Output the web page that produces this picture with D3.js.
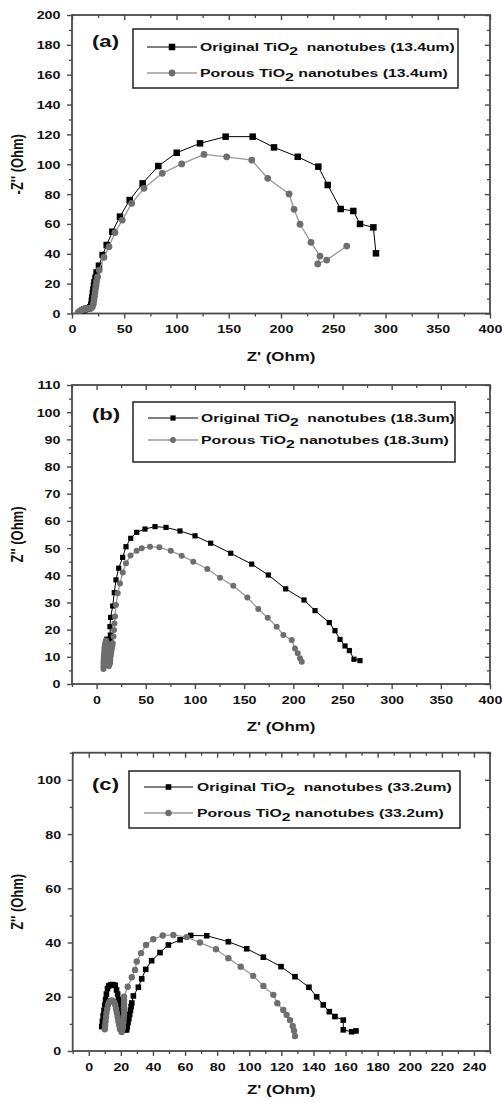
<!DOCTYPE html>
<html>
<head>
<meta charset="utf-8">
<script src="https://cdn.jsdelivr.net/npm/d3@7"></script>
<style>
  body { margin: 0; background: #fff; }
  svg { display: block; }
</style>
</head>
<body>
<svg id="fig" width="502" height="1102"></svg>
<script>
// ---- Nyquist data: [Z' (Ohm), Z'' (Ohm)] ----
// (a) 13.4 um
const originalA = [
  [8,1],[10,2],[12,2.8],[14,3.2],[16,3.5],[17.5,4.2],[18.5,6],[19,8.5],[19.5,11],[20,13.5],
  [20.5,16],[21,18.5],[21.5,21],[22.5,24],[23.5,27.5],[25.8,32],[29.3,39.2],[33.2,45.9],
  [38.6,54.8],[45.9,64.9],[55.2,76],[67.6,87.2],[82.6,98.8],[100.2,107.7],[122.5,114],
  [147,118.5],[172.9,118.5],[193.3,111.3],[216,105],[235.7,98.4],[244.7,86.1],[257.1,70],
  [269.2,68.7],[275.6,60],[288.4,57.7],[290.9,40.3]
];
const porousA = [
  [6,0.8],[8,1.8],[10,2.5],[12,3],[14,3.2],[16,3.4],[18,3.6],[19.5,4.5],[20.5,6.5],[21,9],
  [21.5,11.5],[22,14],[22.5,16.5],[23,19],[23.5,21.5],[24.5,24.5],[26.1,29.1],[30.6,37.7],
  [35.4,44.8],[41.1,54.2],[48.1,62.6],[57.1,73.8],[68.9,83.9],[86.4,93.9],[105,100.2],
  [126.3,106.6],[148,105],[172,102.8],[187.3,90.6],[207.7,80.1],[212.5,69.8],[218.2,59.8],
  [228.7,47.7],[237.3,38.5],[235.1,33.2],[243.7,35.8],[262.9,45.2]
];
// (b) 18.3 um
const originalB = [
  [8,7],[8,8],[8.2,9],[8.5,11],[8.8,12],[9,13],[9.5,15],[10,16],[10.5,16.5],[11,16.2],[11.5,15.5],
  [12,13.5],[12.5,11.5],[13,9.5],[13.5,8],[13.8,8.8],[14,9.5],[14.5,12],[14.6,13.5],[14.5,15],
  [14.2,16.5],[14,18],[13.6,21.1],[14.3,24.5],[16.4,28.7],[18,33.6],
  [19.7,38.3],[22.5,42.6],[26.5,46.6],[29.9,50.5],[34.7,53.6],[40.8,55.8],[49.2,57],[59.4,57.9],
  [70.6,57.6],[84.8,56.3],[100.1,54.5],[116,51.8],[136.4,48.1],[157.7,44.1],[174.6,40.1],
  [192.3,35],[210.9,30.9],[222.1,27],[236.6,22.6],[242.4,19.6],[247.5,16.4],[252.6,14],
  [257,12.3],[261.7,9.1],[267.8,8.6]
];
const porousB = [
  [7,5.5],[7,6.5],[7,7.5],[7.1,8.8],[7.3,10],[7.5,11.2],[7.8,12.5],[8.1,13.5],[8.5,14.5],[9,15.3],
  [9.5,16],[10,15.6],[10.5,15],[10.8,13.8],[11,12.5],[11.3,11.2],[11.5,10],[11.8,9],[12,8],
  [12.5,6.5],[13,7.2],[13.5,8],[14,9.2],[14.5,10.5],[15,11.8],[15.5,13],[16,14],[16.5,15],[17.2,17.5],
  [17.7,19.9],[18.2,22.3],[18.7,24.8],
  [19.7,29.1],[21.5,33.4],[23.8,37],[26.6,41],[29.9,44.4],[34.5,47.3],[40.8,49],[45.9,49.9],
  [54.3,50.5],[63.8,50.3],[75.4,49],[86.5,47.2],[98.3,45],[112.6,42.3],[125.5,39.1],[139,36.1],
  [153.3,31.8],[164.4,27.6],[174,24.4],[183.1,21.1],[189.9,18],[198.4,16.2],[201.7,13.1],
  [204.5,11.3],[206.8,9.5],[208.6,8.2]
];
// (c) 33.2 um
const originalC = [
  [8.1,9],[8.5,11],[9,13],[9.5,15],[10,17],[10.5,19],[11,21],[11.7,23],[12.5,24],[13.5,24.4],
  [14.5,24.5],[15.5,24.4],[16.5,24.2],[17.3,22.5],[18,21],[18.5,19],[19,17],[19.5,15],[20,13],
  [20.3,11],[20.7,9.2],[21.5,8.2],[22.5,7.8],[23.6,7.8],[24,9],[24.5,10.5],[25,12],[25.5,13.5],
  [26,15],[26.4,16.4],[26.8,17.7],[27.8,20.3],
  [30.9,23.5],[33,26.6],[35.5,30.1],[39.2,33.3],[44.4,36.3],[49.6,39.1],[56.9,41],[63.5,42.6],
  [73.5,42.5],[87,40.3],[98.4,37.7],[108.8,34.6],[119.8,31.1],[128.5,27.4],[137.2,23.5],
  [142,20],[146.1,17],[149.9,14.5],[153.4,12.7],[158.6,11.4],[158.6,7.8],[163.8,7.1],[166.5,7.4]
];
const porousC = [
  [10,8],[10.2,9.5],[10.5,11],[10.8,12.5],[11,14],[11.5,15.5],[12,17],[12.8,18],[13.5,18.5],
  [14.3,18.6],[15,18.5],[15.8,18],[16.5,17],[17,15.5],[17.5,14],[18,12.5],[18.5,11],[19,9.5],
  [19.5,8],[20.5,7],[21,8],[21.3,9],[21.6,10.5],[21.8,12],[22,13.5],[22,15],[22,16.3],[22,17.5],
  [22,18.8],[22,20],[24.3,23.7],[26.8,27.2],[28.8,29.9],
  [29.9,33],[32.6,36.1],[35.7,39.1],[40.2,41.2],[46.1,42.6],[52.7,42.8],[61,42],[69.3,40],
  [79.3,37.5],[87,34.2],[94.7,31.1],[102.5,27.7],[108.8,24],[115,20.7],[117.5,17.6],[121.2,15.1],
  [123.3,13.3],[125.4,11.4],[127.1,9.2],[127.9,7.5],[128.5,5.5]
];

// ---- axis ticks ----
const xMajorAB = d3.range(0, 401, 50);
const xMinorA  = d3.range(25, 400, 50);
const xMinorB  = d3.range(-25, 400, 50);
const xMajorC  = d3.range(0, 241, 20);
const xMinorC  = d3.range(-10, 251, 20);
const yMajorA  = d3.range(0, 201, 20);
const yMinorA  = d3.range(10, 200, 20);
const yMajorB  = d3.range(0, 111, 10);
const yMinorB  = d3.range(5, 110, 10);
const yMajorC  = d3.range(0, 101, 20);
const yMinorC  = d3.range(10, 111, 20);

// ---- legend labels ----
const sampleLengths = ["13.4um", "18.3um", "33.2um"];
const panelTags = ["(a)", "(b)", "(c)"];
const yTitles = ["-Z'' (Ohm)", "Z'' (Ohm)", "Z'' (Ohm)"];
const xTitle = "Z' (Ohm)";

const FONT = '"Liberation Sans", Arial, Helvetica, sans-serif';
const SX = 1.3;            // text is drawn horizontally widened
const FRAME = '#4a4a4a';
const BLACK = '#000';
const GREY_LINE = '#9a9a9a';
const GREY_MARK = '#6e6e6e';

const svg = d3.select('#fig');

const panels = [
  { tag: panelTags[0], yTitle: yTitles[0], len: sampleLengths[0], orig: originalA, por: porousA,
    xDomain: [0, 400], yDomain: [0, 200], xMajor: xMajorAB, xMinor: xMinorA, yMajor: yMajorA, yMinor: yMinorA,
    left: 72, right: 490, top: 15, bottom: 313.5, xTitleY: 361,
    box: [133, 29, 325, 59], rows: [47, 73], lineX: [147, 197], textX: 200, textW: [255, 248],
    tagXY: [92, 47], sq: 6.5, r: 3.4 },
  { tag: panelTags[1], yTitle: yTitles[1], len: sampleLengths[1], orig: originalB, por: porousB,
    xDomain: [-25, 400], yDomain: [0, 110], xMajor: xMajorAB, xMinor: xMinorB, yMajor: yMajorB, yMinor: yMinorB,
    left: 72, right: 490, top: 385, bottom: 684, xTitleY: 731,
    box: [133, 402, 322, 60], rows: [418, 440], lineX: [148, 198], textX: 201, textW: [254, 248],
    tagXY: [92, 420], sq: 5.2, r: 3.0 },
  { tag: panelTags[2], yTitle: yTitles[2], len: sampleLengths[2], orig: originalC, por: porousC,
    xDomain: [-10, 250], yDomain: [0, 110], xMajor: xMajorC, xMinor: xMinorC, yMajor: yMajorC, yMinor: yMinorC,
    left: 72.7, right: 490, top: 752.7, bottom: 1051, xTitleY: 1094,
    box: [129, 771, 331, 57], rows: [787, 813], lineX: [144, 193], textX: 197, textW: [255, 247],
    tagXY: [92, 790], sq: 5.6, r: 3.2 }
];

function styleTickText(sel) {
  sel.selectAll('text')
    .attr('fill', '#111')
    .style('font-family', FONT)
    .style('font-weight', 'bold')
    .style('font-size', '11px');
}

function drawPanel(p) {
  const g = svg.append('g');
  const x = d3.scaleLinear().domain(p.xDomain).range([p.left, p.right]);
  const y = d3.scaleLinear().domain(p.yDomain).range([p.bottom, p.top]);

  const axes = [
    { gen: d3.axisBottom(x), at: `translate(0,${p.bottom})`, major: p.xMajor, minor: p.xMinor, dir: 1, labels: true, kind: 'x' },
    { gen: d3.axisTop(x), at: `translate(0,${p.top})`, major: p.xMajor, minor: p.xMinor, dir: -1, labels: false },
    { gen: d3.axisLeft(y), at: `translate(${p.left},0)`, major: p.yMajor, minor: p.yMinor, dir: 1, labels: true, kind: 'y' },
    { gen: d3.axisRight(y), at: `translate(${p.right},0)`, major: p.yMajor, minor: p.yMinor, dir: -1, labels: false }
  ];

  axes.forEach(a => {
    const minor = g.append('g').attr('transform', a.at)
      .call(a.gen.tickValues(a.minor).tickSizeInner(3 * a.dir).tickSizeOuter(0).tickFormat(''));
    minor.select('.domain').remove();
    minor.selectAll('line').attr('stroke', FRAME).attr('stroke-width', 1.3);

    const major = g.append('g').attr('transform', a.at)
      .call(a.gen.tickValues(a.major).tickSizeInner(5 * a.dir).tickSizeOuter(0)
        .tickFormat(a.labels ? d3.format('d') : ''));
    major.select('.domain').remove();
    major.selectAll('line').attr('stroke', FRAME).attr('stroke-width', 1.4);
    if (a.labels) {
      styleTickText(major);
      if (a.kind === 'x') {
        major.selectAll('text').attr('y', 19.8).attr('dy', null)
          .attr('transform', `scale(${SX},1)`);
      } else {
        major.selectAll('text').attr('x', -11.5 / SX).attr('dy', '0.36em')
          .attr('transform', `scale(${SX},1)`);
      }
    }
  });

  // frame
  g.append('rect')
    .attr('x', p.left).attr('y', p.top)
    .attr('width', p.right - p.left).attr('height', p.bottom - p.top)
    .attr('fill', 'none').attr('stroke', FRAME).attr('stroke-width', 1.8);

  // axis titles
  g.append('text')
    .attr('transform', `translate(${(p.left + p.right) / 2},${p.xTitleY}) scale(${SX},1)`)
    .attr('text-anchor', 'middle')
    .style('font-family', FONT).style('font-weight', 'bold').style('font-size', '13px')
    .attr('fill', '#111')
    .text(xTitle);
  g.append('text')
    .attr('transform', `translate(23,${(p.top + p.bottom) / 2}) scale(${SX},1) rotate(-90)`)
    .attr('text-anchor', 'middle')
    .style('font-family', FONT).style('font-weight', 'bold').style('font-size', '13px')
    .attr('fill', '#111')
    .text(p.yTitle);

  // series
  const line = d3.line().x(d => x(d[0])).y(d => y(d[1]));
  const clip = 'clip-' + p.tag.replace(/[()]/g, '');
  svg.append('clipPath').attr('id', clip).append('rect')
    .attr('x', p.left).attr('y', p.top).attr('width', p.right - p.left).attr('height', p.bottom - p.top);
  const plot = g.append('g').attr('clip-path', `url(#${clip})`);

  plot.append('path').datum(p.orig)
    .attr('d', line).attr('fill', 'none').attr('stroke', BLACK).attr('stroke-width', 1);
  plot.selectAll('rect.orig').data(p.orig).join('rect').attr('class', 'orig')
    .attr('x', d => x(d[0]) - p.sq / 2).attr('y', d => y(d[1]) - p.sq / 2)
    .attr('width', p.sq).attr('height', p.sq).attr('fill', BLACK);

  plot.append('path').datum(p.por)
    .attr('d', line).attr('fill', 'none').attr('stroke', GREY_LINE).attr('stroke-width', 1.3);
  plot.selectAll('circle.por').data(p.por).join('circle').attr('class', 'por')
    .attr('cx', d => x(d[0])).attr('cy', d => y(d[1])).attr('r', p.r).attr('fill', GREY_MARK);

  // panel tag
  g.append('text')
    .attr('transform', `translate(${p.tagXY[0]},${p.tagXY[1]}) scale(${SX},1)`)
    .style('font-family', FONT).style('font-weight', 'bold').style('font-size', '17px')
    .attr('fill', '#111')
    .text(p.tag);

  // legend
  const [bx, by, bw, bh] = p.box;
  g.append('rect').attr('x', bx).attr('y', by).attr('width', bw).attr('height', bh)
    .attr('fill', '#fff').attr('stroke', '#222').attr('stroke-width', 1.5);

  const entries = [
    { pre: 'Original TiO', post: '  nanotubes (' + p.len + ')', color: BLACK, mark: 'sq' },
    { pre: 'Porous TiO', post: ' nanotubes (' + p.len + ')', color: GREY_LINE, mark: 'ci' }
  ];
  entries.forEach((e, i) => {
    const ry = p.rows[i];
    g.append('line').attr('x1', p.lineX[0]).attr('x2', p.lineX[1]).attr('y1', ry).attr('y2', ry)
      .attr('stroke', e.color).attr('stroke-width', e.mark === 'sq' ? 1.2 : 1.5);
    const mx = (p.lineX[0] + p.lineX[1]) / 2;
    if (e.mark === 'sq') {
      g.append('rect').attr('x', mx - p.sq / 2).attr('y', ry - p.sq / 2)
        .attr('width', p.sq).attr('height', p.sq).attr('fill', BLACK);
    } else {
      g.append('circle').attr('cx', mx).attr('cy', ry).attr('r', p.r).attr('fill', GREY_MARK);
    }
    const t = g.append('text')
      .style('font-family', FONT).style('font-weight', 'bold').style('font-size', '11.5px')
      .style('white-space', 'pre')
      .attr('fill', '#111');
    t.append('tspan').text(e.pre);
    t.append('tspan').attr('dy', 3.5).text('2');
    t.append('tspan').attr('dy', -3.5).text(e.post);
    const w = t.node().getComputedTextLength();
    const k = w > 0 ? p.textW[i] / w : SX;
    t.attr('transform', `translate(${p.textX},${ry + 4}) scale(${k},1)`);
  });
}

panels.forEach(drawPanel);
</script>
</body>
</html>
